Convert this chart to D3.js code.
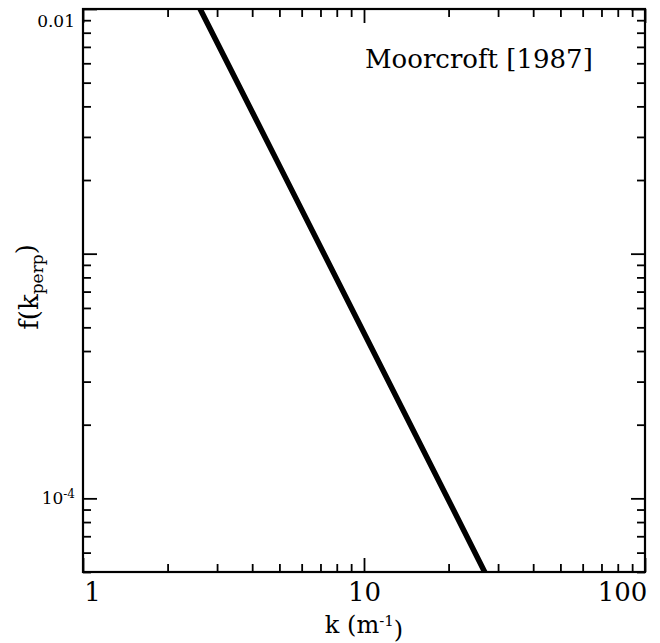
<!DOCTYPE html>
<html>
<head>
<meta charset="utf-8">
<script src="https://cdn.jsdelivr.net/npm/d3@7"></script>
<style>
  body { margin: 0; background: #fff; }
  svg text { font-family: "DejaVu Serif", serif; fill: #000; }
</style>
</head>
<body>
<svg id="chart"></svg>
<script>
// values
const kValues = [2.6, 5, 10, 20, 27];
const fValues = [0.0101, 0.00229, 0.000474, 0.0000983, 0.0000495];
const xMajorTicks = [1, 10, 100];
const yMajorTicks = [0.01, 0.001, 0.0001];
const yTickLabels = ["0.01", "", "10^-4"];
const annotation = "Moorcroft [1987]";

const width = 660, height = 643;
const margin = {top: 9, right: 15, bottom: 70, left: 83};
const plotW = width - margin.left - margin.right;
const plotH = height - margin.top - margin.bottom - 1;

const svg = d3.select("#chart")
    .attr("width", width)
    .attr("height", height);

const xScale = d3.scaleLog()
    .domain([1, 100])
    .range([margin.left, margin.left + plotW]);
const yScale = d3.scaleLog()
    .domain([5e-5, 0.01])
    .range([margin.top + plotH, margin.top]);

const xMinor = xScale.ticks().filter(d => !xMajorTicks.includes(d));
const yMinor = yScale.ticks().filter(d => !yMajorTicks.some(m => Math.abs(m - d) / m < 1e-6));

const bottomY = margin.top + plotH;
const rightX = margin.left + plotW;

// clip for the curve
svg.append("defs").append("clipPath")
    .attr("id", "plotClip")
    .append("rect")
    .attr("x", margin.left)
    .attr("y", margin.top)
    .attr("width", plotW)
    .attr("height", plotH);

// data line
const lineMaker = d3.line()
    .x((d, i) => xScale(kValues[i]))
    .y(d => yScale(d));
svg.append("path")
    .attr("clip-path", "url(#plotClip)")
    .attr("d", lineMaker(fValues))
    .attr("fill", "none")
    .attr("stroke", "#000")
    .attr("stroke-width", 5.5);

function styleAxis(g) {
    g.select(".domain").remove();
    g.selectAll(".tick line").attr("stroke", "#000").attr("stroke-width", 1.8);
}

// bottom axis
svg.append("g")
    .attr("transform", `translate(0, ${bottomY})`)
    .call(d3.axisBottom(xScale).tickValues(xMinor).tickSize(-8).tickFormat(""))
    .call(styleAxis);
const xAxisG = svg.append("g")
    .attr("transform", `translate(0, ${bottomY})`)
    .call(d3.axisBottom(xScale).tickValues(xMajorTicks).tickSize(-14).tickPadding(11).tickFormat(d3.format("d")))
    .call(styleAxis);
xAxisG.selectAll(".tick text")
    .attr("font-size", 26)
    .attr("font-family", "DejaVu Serif")
    .attr("dx", (d, i) => i === 0 ? 9 : (i === xMajorTicks.length - 1 ? -23 : 0));

// top axis (mirror)
svg.append("g")
    .attr("transform", `translate(0, ${margin.top})`)
    .call(d3.axisTop(xScale).tickValues(xMinor).tickSize(-8).tickFormat(""))
    .call(styleAxis);
svg.append("g")
    .attr("transform", `translate(0, ${margin.top})`)
    .call(d3.axisTop(xScale).tickValues(xMajorTicks).tickSize(-14).tickFormat(""))
    .call(styleAxis);

// left axis
svg.append("g")
    .attr("transform", `translate(${margin.left}, 0)`)
    .call(d3.axisLeft(yScale).tickValues(yMinor).tickSize(-8).tickFormat(""))
    .call(styleAxis);
const yAxisG = svg.append("g")
    .attr("transform", `translate(${margin.left}, 0)`)
    .call(d3.axisLeft(yScale).tickValues(yMajorTicks).tickSize(-14).tickPadding(8)
        .tickFormat((d, i) => yTickLabels[i]))
    .call(styleAxis);
yAxisG.selectAll(".tick text")
    .attr("font-size", 17)
    .attr("font-family", "DejaVu Serif")
    .attr("dy", (d, i) => i === 0 ? "1.0em" : "0.32em")
    .each(function(d, i) {
        const t = yTickLabels[i];
        if (t.includes("^")) {
            const [base, sup] = t.split("^");
            const el = d3.select(this).text(base);
            el.append("tspan").attr("dy", "-0.5em").attr("font-size", 12).text(sup);
        }
    });

// right axis (mirror)
svg.append("g")
    .attr("transform", `translate(${rightX}, 0)`)
    .call(d3.axisRight(yScale).tickValues(yMinor).tickSize(-8).tickFormat(""))
    .call(styleAxis);
svg.append("g")
    .attr("transform", `translate(${rightX}, 0)`)
    .call(d3.axisRight(yScale).tickValues(yMajorTicks).tickSize(-14).tickFormat(""))
    .call(styleAxis);

// frame
svg.append("rect")
    .attr("x", margin.left)
    .attr("y", margin.top)
    .attr("width", plotW)
    .attr("height", plotH)
    .attr("fill", "none")
    .attr("stroke", "#000")
    .attr("stroke-width", 2.2);

// annotation
svg.append("text")
    .attr("x", 365)
    .attr("y", 68)
    .attr("font-size", 26)
    .text(annotation);

// x axis title
const xTitle = svg.append("text")
    .attr("x", xScale(10))
    .attr("y", 633)
    .attr("text-anchor", "middle")
    .attr("font-size", 24);
xTitle.append("tspan").text("k (m");
xTitle.append("tspan").attr("dy", "-0.5em").attr("font-size", 15).text("-1");
xTitle.append("tspan").attr("dy", "0.5em").text(")");

// y axis title
const yTitle = svg.append("text")
    .attr("transform", `translate(38, 287) rotate(-90)`)
    .attr("text-anchor", "middle")
    .attr("font-size", 26);
yTitle.append("tspan").text("f(k");
yTitle.append("tspan").attr("dy", "0.3em").attr("font-size", 17).text("perp");
yTitle.append("tspan").attr("dy", "-0.3em").text(")");
</script>
</body>
</html>
